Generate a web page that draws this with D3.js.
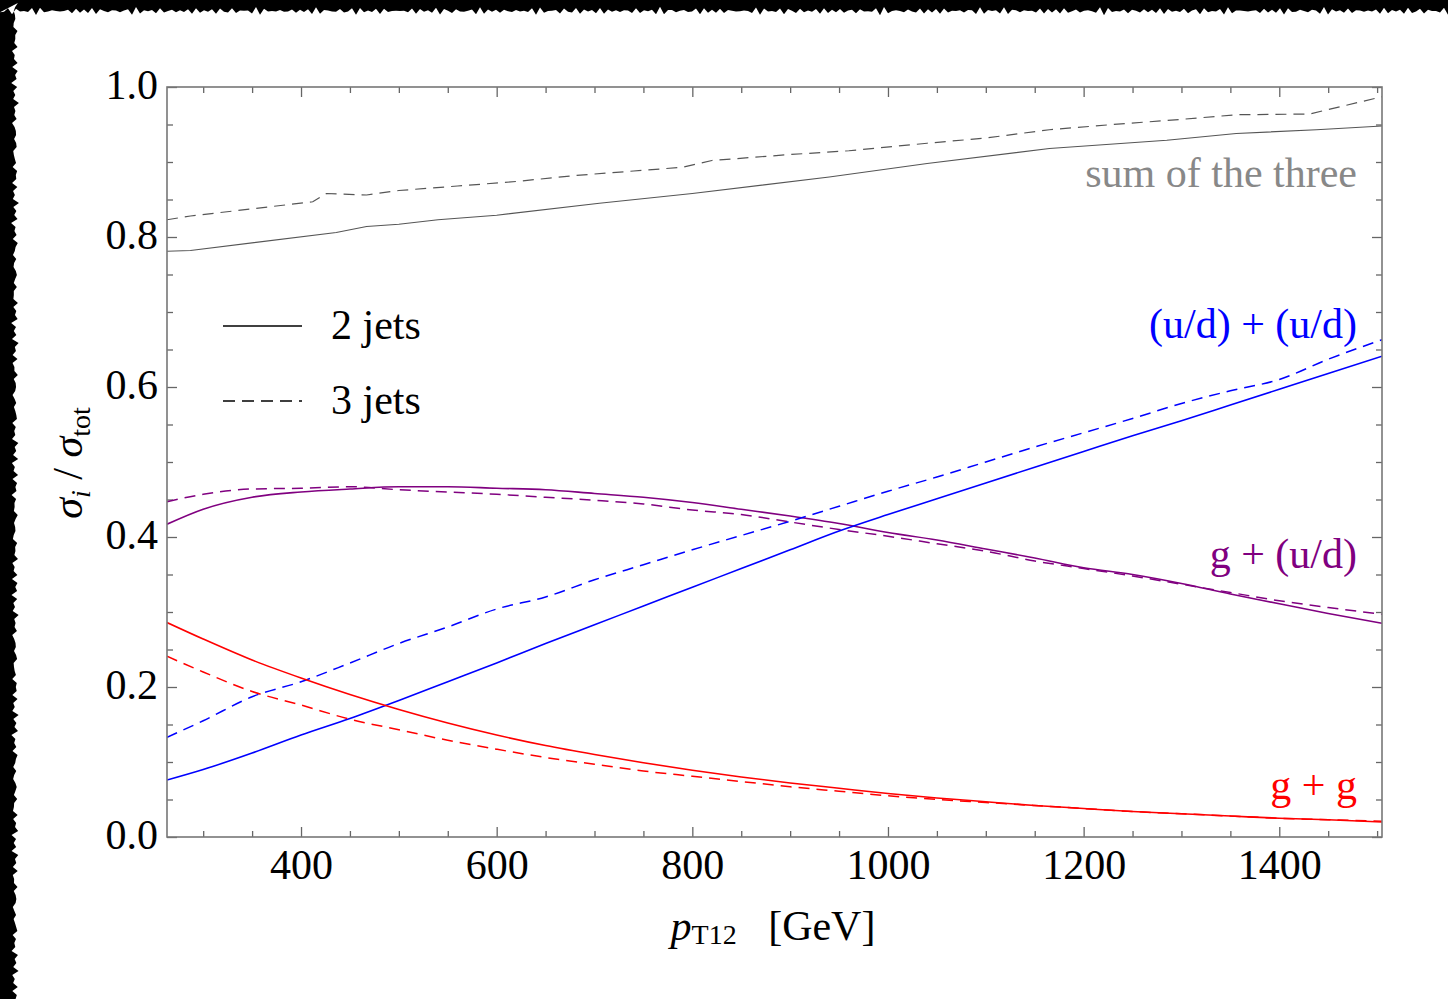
<!DOCTYPE html>
<html>
<head>
<meta charset="utf-8">
<script src="https://cdn.jsdelivr.net/npm/d3@7"></script>
<style>
  html, body { margin: 0; padding: 0; background: #fff; }
  svg { display: block; font-family: "Liberation Serif", "Times New Roman", serif; }
  .axis path.domain { display: none; }
  .axis line { stroke: #666; stroke-width: 1.3; }
  .axis text { font-size: 42px; fill: #000; font-family: "Liberation Serif", serif; }
  .frame { fill: none; stroke: #777; stroke-width: 1.6; }
  .curve { fill: none; }
</style>
</head>
<body>
<div id="chart"></div>
<script>
'use strict';

// x grid (GeV) shared by the three channels
var xGrid = [263, 300, 350, 400, 450, 500, 550, 600, 650, 700, 750, 800, 850,
             900, 950, 1000, 1050, 1100, 1150, 1200, 1250, 1300, 1350, 1400, 1450, 1505];

// g + g
var gg2 = [0.286, 0.264, 0.236, 0.212, 0.190, 0.170, 0.152, 0.136, 0.122, 0.110, 0.099, 0.089, 0.080,
           0.072, 0.065, 0.058, 0.052, 0.047, 0.042, 0.038, 0.034, 0.031, 0.028, 0.025, 0.023, 0.020];
var gg3 = [0.241, 0.220, 0.194, 0.176, 0.157, 0.143, 0.129, 0.117, 0.106, 0.097, 0.088, 0.081, 0.074,
           0.067, 0.061, 0.055, 0.050, 0.046, 0.042, 0.038, 0.034, 0.031, 0.028, 0.025, 0.023, 0.021];

// (u/d) + (u/d)
var qq2 = [0.076, 0.090, 0.112, 0.136, 0.158, 0.182, 0.207, 0.232, 0.258, 0.283, 0.308, 0.333, 0.358,
           0.383, 0.408, 0.430, 0.451, 0.472, 0.493, 0.514, 0.535, 0.555, 0.576, 0.597, 0.618, 0.641];
var qq3 = [0.133, 0.155, 0.187, 0.207, 0.232, 0.258, 0.280, 0.304, 0.320, 0.343, 0.363, 0.383, 0.402,
           0.421, 0.441, 0.461, 0.480, 0.500, 0.520, 0.539, 0.558, 0.578, 0.595, 0.610, 0.637, 0.663];

// g + (u/d)
var gq2 = [0.417, 0.437, 0.453, 0.460, 0.464, 0.467, 0.467, 0.465, 0.463, 0.458, 0.453, 0.446, 0.437,
           0.428, 0.418, 0.406, 0.396, 0.384, 0.372, 0.359, 0.350, 0.338, 0.324, 0.311, 0.298, 0.285];
var gq3 = [0.447, 0.457, 0.464, 0.465, 0.467, 0.463, 0.460, 0.457, 0.453, 0.449, 0.444, 0.436, 0.430,
           0.420, 0.410, 0.401, 0.391, 0.381, 0.368, 0.358, 0.348, 0.337, 0.326, 0.315, 0.306, 0.297];

// sum of the three
var sumX2 = [263, 287, 436, 467, 500, 540, 600, 705, 800, 940, 1040, 1165, 1285, 1356, 1438, 1505];
var sum2  = [0.781, 0.782, 0.806, 0.814, 0.817, 0.823, 0.829, 0.845, 0.858, 0.880, 0.898, 0.918, 0.929, 0.938, 0.943, 0.948];
var sumX3 = [263, 287, 412, 426, 467, 500, 560, 620, 680, 740, 790, 820, 900, 960, 1040, 1100, 1165, 1230, 1301, 1356, 1431, 1505];
var sum3  = [0.823, 0.828, 0.847, 0.858, 0.856, 0.862, 0.868, 0.874, 0.882, 0.888, 0.893, 0.902, 0.910, 0.915,
             0.925, 0.932, 0.943, 0.950, 0.957, 0.963, 0.964, 0.987];

var xMajor = [400, 600, 800, 1000, 1200, 1400];
var xMinor = [300, 350, 450, 500, 550, 650, 700, 750, 850, 900, 950, 1050, 1100, 1150, 1250, 1300, 1350, 1450, 1500];
var yMajor = [0, 0.2, 0.4, 0.6, 0.8, 1.0];
var yMinor = [0.05, 0.1, 0.15, 0.25, 0.3, 0.35, 0.45, 0.5, 0.55, 0.65, 0.7, 0.75, 0.85, 0.9, 0.95];

var W = 1448, H = 999;
var plotL = 167, plotR = 1382, plotT = 87, plotB = 837;

var svg = d3.select('#chart').append('svg')
  .attr('width', W)
  .attr('height', H);

// torn black edge on the top and left
(function() {
  svg.append('rect').attr('width', W).attr('height', H).attr('fill', '#000');
  var pts = [];
  var i;
  for (i = 0; i <= W; i += 4) {
    pts.push([i, 11 + 2.2 * Math.sin(i * 0.73) + 1.4 * Math.sin(i * 2.1 + 1.3) + 0.8 * Math.sin(i * 5.3)]);
  }
  pts.push([W, H]);
  for (i = H; i >= 0; i -= 4) {
    pts.push([15 + 2.0 * Math.sin(i * 0.81 + 0.4) + 1.5 * Math.sin(i * 2.7) + 0.8 * Math.sin(i * 6.1 + 2), i]);
  }
  svg.append('path')
    .attr('d', d3.line()(pts) + 'Z')
    .attr('fill', '#fff');
})();

var x = d3.scaleLinear().domain([263, 1505]).range([plotL, plotR]);
var y = d3.scaleLinear().domain([0, 1]).range([plotB, plotT]);

// frame ticks (inward, mirrored)
function addAxis(axis, tx, ty, cls) {
  svg.append('g')
    .attr('class', 'axis ' + (cls || ''))
    .attr('transform', 'translate(' + tx + ',' + ty + ')')
    .call(axis);
}

addAxis(d3.axisBottom(x).tickValues(xMajor).tickSize(-10).tickPadding(12).tickFormat(d3.format('d')), 0, plotB, 'xlab');
addAxis(d3.axisBottom(x).tickValues(xMinor).tickSize(-6).tickFormat(''), 0, plotB);
addAxis(d3.axisTop(x).tickValues(xMajor).tickSize(-10).tickFormat(''), 0, plotT);
addAxis(d3.axisTop(x).tickValues(xMinor).tickSize(-6).tickFormat(''), 0, plotT);
addAxis(d3.axisLeft(y).tickValues(yMajor).tickSize(-10).tickPadding(9).tickFormat(d3.format('.1f')), plotL, 0, 'ylab');
addAxis(d3.axisLeft(y).tickValues(yMinor).tickSize(-6).tickFormat(''), plotL, 0);
addAxis(d3.axisRight(y).tickValues(yMajor).tickSize(-10).tickFormat(''), plotR, 0);
addAxis(d3.axisRight(y).tickValues(yMinor).tickSize(-6).tickFormat(''), plotR, 0);

svg.selectAll('.xlab text').attr('dy', '0.71em');
svg.selectAll('.ylab text').attr('dy', '0.28em');

// curves
var series = [
  { xs: sumX2, ys: sum2, color: '#555', width: 1.2, dash: null, curve: d3.curveLinear },
  { xs: sumX3, ys: sum3, color: '#555', width: 1.2, dash: '11,7', curve: d3.curveLinear },
  { xs: xGrid, ys: gq2, color: '#800080', width: 1.6, dash: null, curve: d3.curveMonotoneX },
  { xs: xGrid, ys: gq3, color: '#800080', width: 1.5, dash: '11,7', curve: d3.curveMonotoneX },
  { xs: xGrid, ys: qq2, color: '#0000ff', width: 1.6, dash: null, curve: d3.curveMonotoneX },
  { xs: xGrid, ys: qq3, color: '#0000ff', width: 1.5, dash: '11,7', curve: d3.curveMonotoneX },
  { xs: xGrid, ys: gg2, color: '#ff0000', width: 1.6, dash: null, curve: d3.curveMonotoneX },
  { xs: xGrid, ys: gg3, color: '#ff0000', width: 1.5, dash: '11,7', curve: d3.curveMonotoneX }
];

svg.append('defs').append('clipPath').attr('id', 'plot-clip')
  .append('rect')
    .attr('x', plotL).attr('y', plotT)
    .attr('width', plotR - plotL).attr('height', plotB - plotT);

var plot = svg.append('g').attr('clip-path', 'url(#plot-clip)');

series.forEach(function(s) {
  var line = d3.line()
    .x(function(d, i) { return x(s.xs[i]); })
    .y(function(d) { return y(d); })
    .curve(s.curve);
  plot.append('path')
    .attr('class', 'curve')
    .attr('d', line(s.ys))
    .attr('stroke', s.color)
    .attr('stroke-width', s.width)
    .attr('stroke-dasharray', s.dash);
});

svg.append('rect')
  .attr('class', 'frame')
  .attr('x', plotL).attr('y', plotT)
  .attr('width', plotR - plotL).attr('height', plotB - plotT);

// curve labels
var labels = [
  { text: 'sum of the three', color: '#888', y: 187 },
  { text: '(u/d) + (u/d)', color: '#0000ff', y: 338 },
  { text: 'g + (u/d)', color: '#800080', y: 568 },
  { text: 'g + g', color: '#ff0000', y: 799 }
];
svg.selectAll('.clabel')
  .data(labels)
  .enter().append('text')
    .attr('class', 'clabel')
    .attr('x', 1357)
    .attr('y', function(d) { return d.y; })
    .attr('text-anchor', 'end')
    .attr('font-size', 42)
    .attr('fill', function(d) { return d.color; })
    .text(function(d) { return d.text; });

// legend
var legend = [
  { text: '2 jets', dash: null, y: 326 },
  { text: '3 jets', dash: '12,7', y: 401 }
];
legend.forEach(function(l) {
  svg.append('line')
    .attr('x1', 223).attr('x2', 302)
    .attr('y1', l.y).attr('y2', l.y)
    .attr('stroke', '#000')
    .attr('stroke-width', 1.4)
    .attr('stroke-dasharray', l.dash);
  svg.append('text')
    .attr('x', 331).attr('y', l.y + 13)
    .attr('font-size', 42)
    .text(l.text);
});

// axis titles
var xt = svg.append('text')
  .attr('x', 773).attr('y', 940)
  .attr('text-anchor', 'middle')
  .attr('font-size', 42);
xt.append('tspan').attr('font-style', 'italic').text('p');
xt.append('tspan').attr('font-size', 28).attr('dy', 4).text('T12');
xt.append('tspan').attr('dy', -4).text('\u2002 [GeV]');

var yt = svg.append('text')
  .attr('transform', 'translate(82,463) rotate(-90)')
  .attr('text-anchor', 'middle')
  .attr('font-size', 42);
yt.append('tspan').attr('font-style', 'italic').text('\u03c3');
yt.append('tspan').attr('font-style', 'italic').attr('font-size', 28).attr('dy', 8).text('i');
yt.append('tspan').attr('dy', -8).text(' / ');
yt.append('tspan').attr('font-style', 'italic').text('\u03c3');
yt.append('tspan').attr('font-size', 28).attr('dy', 8).text('tot');
</script>
</body>
</html>
